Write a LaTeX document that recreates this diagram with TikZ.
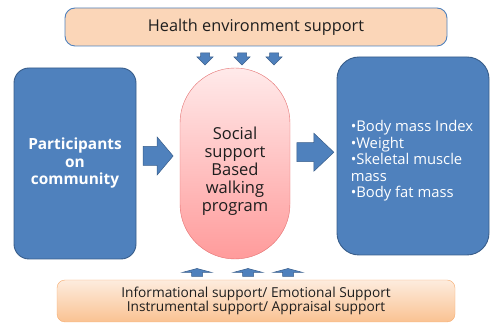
\documentclass[tikz,border=0pt]{standalone}
\usepackage{fontspec}
\setmainfont{Open Sans}
\usetikzlibrary{positioning,calc}
\definecolor{boxblue}{RGB}{79,129,189}
\definecolor{boxline}{RGB}{56,93,138}
\definecolor{peach}{RGB}{251,214,184}
\definecolor{peachtop}{RGB}{253,236,222}
\definecolor{peachbot}{RGB}{250,194,146}
\definecolor{orline}{RGB}{246,172,112}
\definecolor{pinktop}{RGB}{255,234,234}
\definecolor{pinkbot}{RGB}{255,155,155}
\definecolor{pinkline}{RGB}{228,112,112}
\definecolor{ink}{RGB}{30,30,30}
\tikzset{
  bluebox/.style={draw=boxline,fill=boxblue,line width=0.9pt,text=white},
  envbox/.style={draw=boxblue,fill=peach,rounded corners=10pt,line width=0.9pt,
    minimum width=382pt,minimum height=38pt,text=ink,font=\fontsize{16.3}{19}\selectfont},
  suppbox/.style={draw=orline,top color=peachtop,bottom color=peachbot,rounded corners=8pt,
    minimum width=398pt,minimum height=42pt,align=center,text=ink,font=\fontsize{13.7}{14.5}\selectfont},
  capsule/.style={draw=pinkline,top color=pinktop,bottom color=pinkbot,rounded corners=55pt,
    minimum width=110pt,minimum height=191pt},
  barrow/.style={draw=boxline,fill=boxblue,line width=0.5pt},
}
% block arrow: centre, angle, length, head length, shaft width, head width
\newcommand{\blockarrow}[6]{%
  \path[barrow,shift={#1},rotate=#2]
    (-#3/2,-#5/2) -- (#3/2-#4,-#5/2) -- (#3/2-#4,-#6/2) -- (#3/2,0)
    -- (#3/2-#4,#6/2) -- (#3/2-#4,#5/2) -- (-#3/2,#5/2) -- cycle;}

\begin{document}
\begin{tikzpicture}[x=1pt,y=1pt,inner sep=0pt]
  \useasboundingbox (0,0) rectangle (490,323);
  \node[envbox] (env) at (256,296) {Health environment support};
  \node[bluebox,rounded corners=15pt,minimum width=122pt,minimum height=191pt,
        align=center,font=\bfseries\fontsize{15.4}{17.5}\selectfont] (part) at (75,159.5)
        {Participants\\on\\community};
  \node[capsule] (prog) at (235,159.5) {};
  \node[align=center,text=ink,font=\fontsize{16.5}{18}\selectfont] (progtxt) at ($(prog.center)+(0,-7.5)$)
        {Social\\support\\Based\\walking\\program};
  \node[bluebox,rounded corners=22pt,minimum width=152pt,minimum height=198pt] (out) at (413,167) {};
  \node[align=left,text=white,font=\fontsize{14.8}{16.5}\selectfont,anchor=west] (outtxt)
        at ($(out.west)+(14,-5)$)
        {•Body mass Index\\•Weight\\•Skeletal muscle\\mass\\•Body fat mass};
  \node[suppbox] (supp) at (256,22)
        {Informational support/ Emotional Support\\Instrumental support/ Appraisal support};
  % arrows into and out of the programme
  \blockarrow{($(part.east)!0.5!(prog.west)+(0,7.5)$)}{0}{30}{16}{19}{38}
  \blockarrow{($(prog.east)!0.5!(out.west)+(2,7.5)$)}{0}{37}{20}{19}{38}
  % environment support, from above
  \blockarrow{(205,264)}{-90}{12}{8}{9}{16}
  \blockarrow{(242,264)}{-90}{12}{8}{9}{16}
  \blockarrow{(274,264)}{-90}{12}{8}{9}{16}
  % social support, from below
  \blockarrow{(197,50.5)}{90}{8}{4}{11}{30}
  \blockarrow{(248,50.5)}{90}{8}{4}{11}{30}
  \blockarrow{(288,50.5)}{90}{8}{4}{11}{30}
\end{tikzpicture}
\end{document}
